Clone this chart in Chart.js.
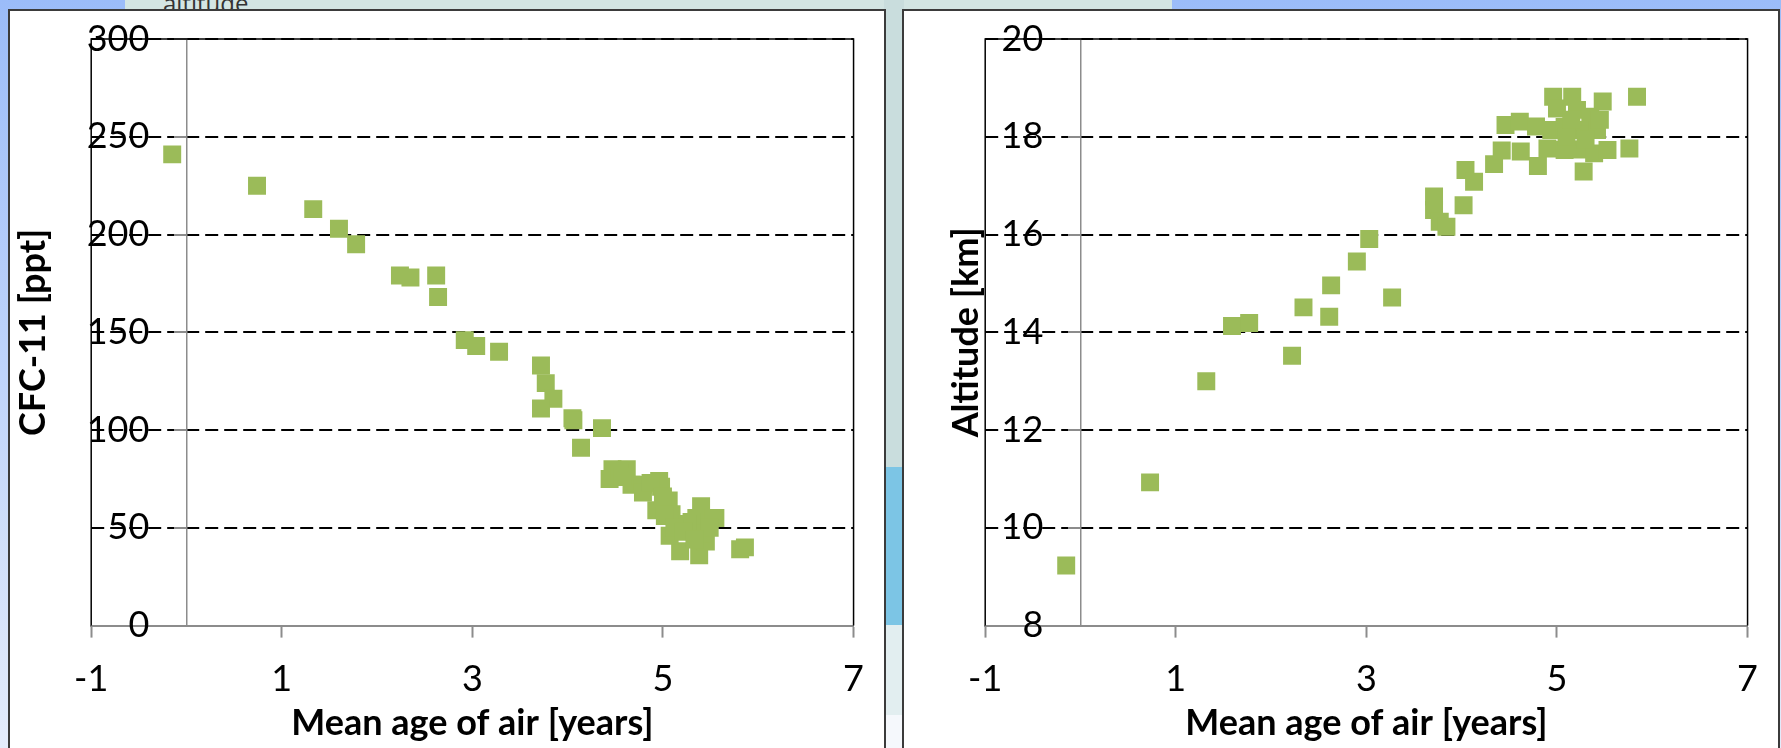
<!DOCTYPE html>
<html>
<head>
<meta charset="utf-8">
<script src="https://cdn.jsdelivr.net/npm/chart.js@4.4.1/dist/chart.umd.min.js"></script>
<style>
  html, body { margin: 0; padding: 0; }
  body {
    width: 1781px; height: 748px; overflow: hidden; position: relative;
    background: linear-gradient(#9bbcf9, #e4ecfb);
  }
  .strip { position: absolute; }
  .bgtext { position: absolute; left: 163px; top: -14px; font: 24px "Open Sans", sans-serif; color: #333; }
  .panel { position: absolute; top: 9px; width: 874px; height: 760px; background: #fff; border: 2px solid #3b3b3b; }
  .box { position: absolute; left: 0; top: 0; width: 874px; height: 745px; }
</style>
</head>
<body>
<div class="strip" style="left:125px; top:0; width:1047px; height:12px; background:#d3e5e3;"></div>
<div class="bgtext">altitude</div>
<div class="strip" style="left:884px; top:0; width:20px; height:748px; background:linear-gradient(#c9dddd 0, #c9dddd 467px, #7cc5e5 467px, #7cc5e5 625px, #e2eef0 625px, #e2eef0 715px, #f5f8fc 715px);"></div>

<div class="panel" style="left:8px;"><div class="box"><canvas id="cfcChart"></canvas></div></div>
<div class="panel" style="left:902px;"><div class="box"><canvas id="altChart"></canvas></div></div>

<script>
// CFC-11 against mean age of air
var cfcAge = [-0.15, 0.74, 1.33, 1.60, 1.78, 2.24, 2.35, 2.62, 2.64, 2.92, 3.04, 3.28,
  3.72, 3.77, 3.85, 3.72, 4.05, 4.06, 4.36, 4.14, 4.47, 4.44, 4.62, 4.67, 4.79, 4.96,
  4.98, 4.79, 5.06, 4.93, 5.09, 5.40, 5.55, 5.35, 5.30, 5.18, 5.38, 5.81, 5.86, 5.53,
  5.07, 5.45, 5.41, 5.26, 5.02, 4.54, 4.58, 4.87, 5.00, 5.12, 5.22, 5.49, 5.33];
var cfc11 = [241, 225, 213, 203, 195, 179, 178, 179, 168, 146, 143, 140,
  133, 124, 116, 111, 106, 105, 101, 91, 80, 75, 80, 72, 72, 74,
  71, 68, 64, 59, 57, 61, 55, 55, 53, 38, 36, 39, 40, 55,
  46, 43, 47, 52, 56, 78, 76, 73, 66, 50, 48, 50, 44];

// Altitude against mean age of air
var altAge = [-0.15, 0.73, 1.32, 1.59, 1.77, 2.22, 2.34, 2.61, 2.63, 2.90, 3.03, 3.27,
  3.71, 3.71, 3.77, 3.84, 4.02, 4.04, 4.13, 4.34, 4.46, 4.61, 4.78, 4.42, 4.62, 4.80,
  4.90, 4.94, 4.96, 5.00, 5.08, 5.08, 5.16, 5.21, 5.21, 5.28, 5.28, 5.35, 5.39, 5.42,
  5.45, 5.48, 5.53, 5.76, 5.84, 5.10, 5.30, 5.15];
var altitude = [9.23, 10.93, 13.0, 14.13, 14.19, 13.52, 14.51, 14.32, 14.96, 15.45, 15.91, 14.71,
  16.78, 16.5, 16.26, 16.16, 16.6, 17.32, 17.08, 17.44, 18.24, 18.31, 18.21, 17.72, 17.70, 17.40,
  17.76, 18.14, 18.82, 18.58, 18.2, 17.73, 18.82, 18.55, 17.74, 18.14, 17.29, 18.41, 17.66, 18.14,
  18.35, 18.72, 17.73, 17.76, 18.82, 18.0, 17.95, 18.35];

var xTicks = [-1, 7, 2];   // min, max, step

Chart.defaults.font.family = 'Lato, "Open Sans", sans-serif';
Chart.defaults.color = '#000';

// black frame round the plot area (left, top, right)
var framePlugin = {
  id: 'frame',
  beforeDatasetsDraw: function (chart) {
    var a = chart.chartArea, ctx = chart.ctx;
    ctx.save();
    ctx.strokeStyle = '#000';
    ctx.lineWidth = 1.5;
    ctx.beginPath();
    ctx.moveTo(a.left, a.bottom);
    ctx.lineTo(a.left, a.top);
    ctx.lineTo(a.right, a.top);
    ctx.lineTo(a.right, a.bottom);
    ctx.stroke();
    ctx.restore();
  }
};

function makeChart(id, ages, values, yMin, yMax, yStep, yTitle, titlePad) {
  var points = ages.map(function (a, i) { return {x: a, y: values[i]}; });
  return new Chart(document.getElementById(id), {
    type: 'scatter',
    data: {
      datasets: [{
        data: points,
        xAxisID: 'x',
        yAxisID: 'y',
        pointStyle: 'rect',
        pointRadius: 12.7,
        backgroundColor: '#9bbb59',
        borderWidth: 0
      }]
    },
    options: {
      responsive: true,
      maintainAspectRatio: false,
      animation: false,
      events: [],
      layout: {padding: {top: 28, right: 28, bottom: 0, left: 0}},
      plugins: {legend: {display: false}, tooltip: {enabled: false}},
      scales: {
        x: {
          type: 'linear', position: 'bottom',
          min: xTicks[0], max: xTicks[1],
          ticks: {stepSize: xTicks[2], padding: 20, maxRotation: 0, font: {size: 36}},
          grid: {drawOnChartArea: false, tickLength: 12, tickColor: '#8c8c8c', tickWidth: 2},
          border: {color: '#8c8c8c', width: 2},
          title: {display: true, text: 'Mean age of air [years]', font: {size: 36, weight: 'bold'},
                  padding: {top: -19, bottom: 11}}
        },
        // the vertical axis line at age 0, with its grid and tick marks
        y: {
          type: 'linear', position: {x: 0},
          min: yMin, max: yMax,
          ticks: {stepSize: yStep, display: false},
          grid: {
            color: function (c) { return c.tick && c.tick.value === yMin ? 'rgba(0,0,0,0)' : '#000'; },
            lineWidth: 2, tickLength: 12, tickColor: '#8c8c8c', tickWidth: 2, tickBorderDash: []
          },
          border: {color: '#8c8c8c', width: 1.5, dash: [13, 6]}
        },
        // the value labels, set a little left of the axis line
        yLab: {
          type: 'linear', position: {x: -0.39},
          min: yMin, max: yMax,
          ticks: {stepSize: yStep, font: {size: 36}},
          grid: {display: false, drawTicks: false},
          border: {display: false}
        },
        yTitle: {
          type: 'linear', position: 'left',
          ticks: {display: false},
          grid: {display: false, drawTicks: false},
          border: {display: false},
          title: {display: true, text: yTitle, font: {size: 36, weight: 'bold'}, padding: titlePad}
        }
      }
    },
    plugins: [framePlugin]
  });
}

makeChart('cfcChart', cfcAge, cfc11, 0, 300, 50, 'CFC-11 [ppt]', {top: 2, bottom: 36});
makeChart('altChart', altAge, altitude, 8, 20, 2, 'Altitude [km]', {top: 41, bottom: -3});
</script>
</body>
</html>
